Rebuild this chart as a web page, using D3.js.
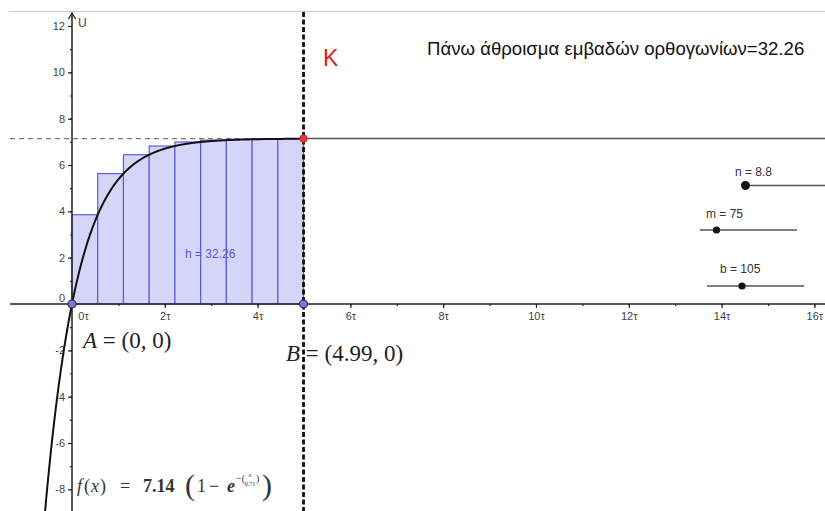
<!DOCTYPE html>
<html>
<head>
<meta charset="utf-8">
<script src="https://cdn.jsdelivr.net/npm/d3@7"></script>
<style>
  html, body { margin: 0; padding: 0; background: #fff; }
  svg { display: block; font-family: "Liberation Sans", Arial, sans-serif; }
</style>
</head>
<body>
<svg id="chart" width="825" height="511"></svg>
<script>
// Upper Riemann sum of f(x) = K (1 - e^(-x/τ)) on [A, B]
const amplitude = 7.14;            // K = m / b * 10
const sliderN = 8.8, sliderM = 75, sliderB = 105;
const tau = sliderM / sliderB;      // 0.71
const pointA = [0, 0];
const pointB = [4.99, 0];
// right-endpoint heights of the nine rectangles
const rectHeights = [3.854, 5.628, 6.444, 6.819, 6.993, 7.072, 7.109, 7.126, 7.133];
const upperSum = 32.26;
const xMajorTicks = [0, 2, 4, 6, 8, 10, 12, 14, 16];
const xMinorTicks = d3.range(0, 17, 1);
const yMajorTicks = [-8, -6, -4, -2, 0, 2, 4, 6, 8, 10, 12];
const yMinorTicks = d3.range(-9, 13, 1);
const titleText = "Πάνω άθροισμα εμβαδών ορθογωνίων=" + upperSum.toFixed(2);

const svg = d3.select("#chart");
const W = 825, H = 511;

const x = d3.scaleLinear().domain([0, 16]).range([72, 814.4]);
const y = d3.scaleLinear().domain([0, 12]).range([304, 26]);

// view border
svg.append("line").attr("x1", 9).attr("x2", W).attr("y1", 11.5).attr("y2", 11.5)
  .attr("stroke", "#c9c9c9").attr("stroke-width", 1);

// rectangles
const dx = (pointB[0] - pointA[0]) / rectHeights.length;
svg.append("g").selectAll("rect").data(rectHeights).join("rect")
  .attr("x", (d, i) => x(pointA[0] + i * dx))
  .attr("y", d => y(d))
  .attr("width", x(dx) - x(0))
  .attr("height", d => y(0) - y(d))
  .attr("fill", "#d5d5fa")
  .attr("stroke", "#5c5ce0")
  .attr("stroke-width", 1.2);

// asymptote y = K
svg.append("line").attr("x1", 10).attr("x2", x(pointB[0])).attr("y1", y(amplitude)).attr("y2", y(amplitude))
  .attr("stroke", "#777").attr("stroke-width", 1.2).attr("stroke-dasharray", "5,4");
svg.append("line").attr("x1", x(pointB[0])).attr("x2", W).attr("y1", y(amplitude)).attr("y2", y(amplitude))
  .attr("stroke", "#555").attr("stroke-width", 1.5);

// axes
const axisColor = "#222";
const xAxisY = y(0);
svg.append("line").attr("x1", 10).attr("x2", W).attr("y1", xAxisY).attr("y2", xAxisY)
  .attr("stroke", axisColor).attr("stroke-width", 1.5);
svg.append("line").attr("x1", x(0)).attr("x2", x(0)).attr("y1", 14).attr("y2", H)
  .attr("stroke", axisColor).attr("stroke-width", 1.5);
svg.append("path").attr("d", `M${x(0) - 3.5},19 L${x(0)},13 L${x(0) + 3.5},19`)
  .attr("fill", "none").attr("stroke", axisColor).attr("stroke-width", 1.3);

const xMinor = svg.append("g").attr("transform", `translate(0,${xAxisY})`)
  .call(d3.axisBottom(x).tickValues(xMinorTicks.filter(d => d > 0)).tickSize(2).tickFormat(""));
const xMajor = svg.append("g").attr("transform", `translate(0,${xAxisY})`)
  .call(d3.axisBottom(x).tickValues(xMajorTicks).tickSize(4).tickPadding(4).tickFormat(d => d + "τ"));
[xMinor, xMajor].forEach(g => {
  g.select(".domain").remove();
  g.selectAll("line").attr("stroke", axisColor).attr("stroke-width", 1.2);
  g.selectAll("text").attr("fill", "#444").attr("font-size", 11).attr("font-family", "Liberation Sans, Arial, sans-serif");
});
xMajor.selectAll(".tick").filter(d => d === 0).select("line").remove();
xMajor.selectAll(".tick").filter(d => d === 0).select("text").attr("x", 11);

const yMinor = svg.append("g").attr("transform", `translate(${x(0)},0)`)
  .call(d3.axisLeft(y).tickValues(yMinorTicks.filter(d => d !== 0)).tickSize(2).tickFormat(""));
const yMajor = svg.append("g").attr("transform", `translate(${x(0)},0)`)
  .call(d3.axisLeft(y).tickValues(yMajorTicks).tickSize(4).tickPadding(3).tickFormat(d => d));
[yMinor, yMajor].forEach(g => {
  g.select(".domain").remove();
  g.selectAll("line").attr("stroke", axisColor).attr("stroke-width", 1.2);
  g.selectAll("text").attr("fill", "#444").attr("font-size", 11).attr("font-family", "Liberation Sans, Arial, sans-serif");
});
yMajor.selectAll(".tick").filter(d => d === 0).select("line").remove();
yMajor.selectAll(".tick").filter(d => d === 0).select("text").attr("y", -6);

svg.append("text").attr("x", x(0) + 6).attr("y", 27).attr("font-size", 12).attr("fill", "#444").text("U");

// f(x)
const f = t => amplitude * (1 - Math.exp(-t / tau));
const xStart = -tau * Math.log(1 + 9.3 / amplitude);
const curvePts = d3.range(0, 401).map(i => {
  const t = xStart + (pointB[0] - xStart) * i / 400;
  return [t, f(t)];
});
svg.append("path").datum(curvePts)
  .attr("d", d3.line().x(d => x(d[0])).y(d => y(d[1])))
  .attr("fill", "none").attr("stroke", "#111").attr("stroke-width", 2);

// x = B
svg.append("line").attr("x1", x(pointB[0])).attr("x2", x(pointB[0])).attr("y1", 12).attr("y2", H)
  .attr("stroke", "#111").attr("stroke-width", 2.8).attr("stroke-dasharray", "5,2.5");

// points
[pointA, pointB].forEach(p => {
  svg.append("circle").attr("cx", x(p[0])).attr("cy", y(p[1])).attr("r", 4)
    .attr("fill", "#7a7ad2").attr("stroke", "#2c2c5c").attr("stroke-width", 1.2);
});
svg.append("circle").attr("cx", x(pointB[0])).attr("cy", y(amplitude)).attr("r", 3.8)
  .attr("fill", "#e03a3a").attr("stroke", "#b02020").attr("stroke-width", 0.8);

// area label
svg.append("text").attr("x", 185).attr("y", 258).attr("font-size", 12).attr("fill", "#5a5ac8")
  .text("h = " + upperSum.toFixed(2));

// K label
svg.append("text").attr("x", 323).attr("y", 66).attr("font-size", 23).attr("fill", "#e02020").text("K");

// title
svg.append("text").attr("x", 427).attr("y", 55).attr("font-size", 18.6).attr("fill", "#111").text(titleText);

// point labels
const serif = "Liberation Serif, DejaVu Serif, serif";
function pointLabel(px, py, name, p, size) {
  const t = svg.append("text").attr("x", px).attr("y", py).attr("font-size", size)
    .attr("font-family", serif).attr("fill", "#222");
  t.append("tspan").attr("font-style", "italic").text(name);
  t.append("tspan").text(" = (" + p[0] + ", " + p[1] + ")");
}
pointLabel(83, 348, "A", pointA, 23);
pointLabel(286, 361, "B", pointB, 23);

// formula
const fy = 492;
const fg = svg.append("g").attr("font-family", serif).attr("fill", "#333");
function ftext(px, py, str, size, opts = {}) {
  const t = fg.append("text").attr("x", px).attr("y", py).attr("font-size", size).text(str);
  if (opts.italic) t.attr("font-style", "italic");
  if (opts.bold) t.attr("font-weight", "bold");
  if (opts.anchor) t.attr("text-anchor", opts.anchor);
  return t;
}
ftext(77, fy, "f", 18, { italic: true });
ftext(84, fy, "(", 18);
ftext(91, fy, "x", 18, { italic: true });
ftext(100, fy, ")", 18);
ftext(120, fy, "=", 18);
ftext(143, fy, amplitude.toFixed(2), 18, { bold: true });
ftext(185, fy + 3, "(", 30);
ftext(197, fy, "1", 18);
ftext(209, fy, "−", 18);
ftext(227, fy, "e", 18, { italic: true, bold: true });
ftext(236, fy - 10, "−(", 10);
ftext(250, fy - 15.5, "x", 6.5, { italic: true, anchor: "middle" });
ftext(250, fy - 6, tau.toFixed(2), 6, { anchor: "middle" });
ftext(256, fy - 10, ")", 10);
ftext(262, fy + 3, ")", 30);
</script>
<script>
// sliders
(function () {
  const svg = d3.select("#chart");
  const W = 825;
  function slider(label, value, x1, x2, yy, dotX, labelX, labelY, r) {
    svg.append("line").attr("x1", x1).attr("x2", x2).attr("y1", yy).attr("y2", yy)
      .attr("stroke", "#555").attr("stroke-width", 1.6);
    svg.append("circle").attr("cx", dotX).attr("cy", yy).attr("r", r).attr("fill", "#111");
    svg.append("text").attr("x", labelX).attr("y", labelY).attr("font-size", 12).attr("fill", "#333")
      .text(label + " = " + value);
  }
  slider("n", sliderN, 745, W, 185.5, 745.5, 735, 176, 4.5);
  slider("m", sliderM, 700, 797, 230, 716.5, 706, 218, 3.6);
  slider("b", sliderB, 707, 804, 286, 742, 720, 273, 3.6);
})();
</script>
</body>
</html>
